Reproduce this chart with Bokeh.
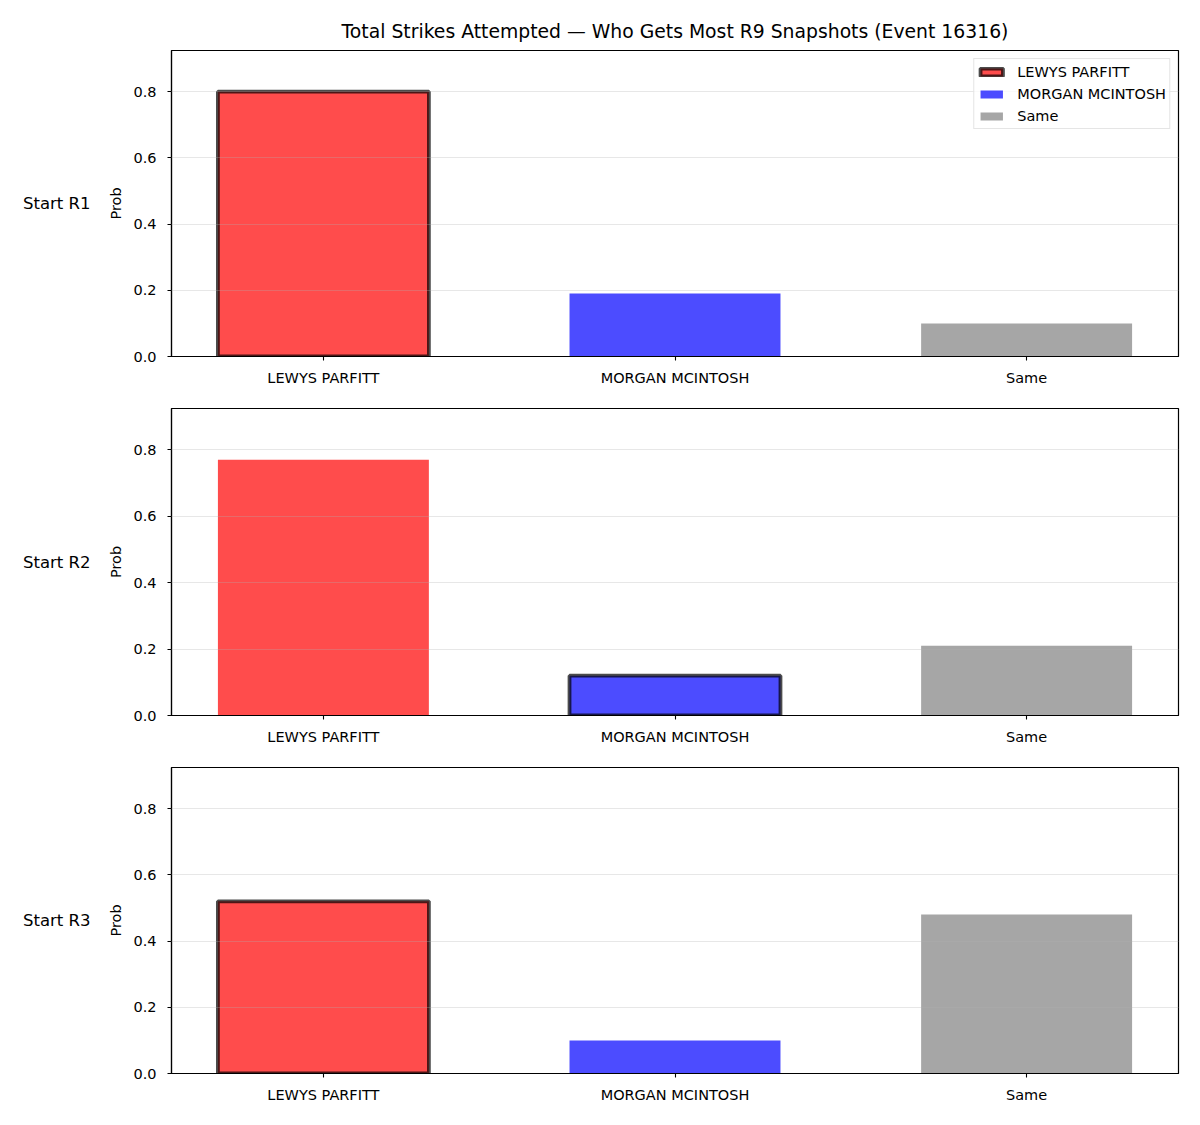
from bokeh.plotting import figure
from bokeh.models import (ColumnDataSource, Range1d, FixedTicker, LinearAxis,
                          PrintfTickFormatter)
from bokeh.layouts import column
from bokeh.embed import file_html
from bokeh.resources import INLINE

title_text = "Total Strikes Attempted \u2014 Who Gets Most R9 Snapshots (Event 16316)"
categories = ["LEWYS PARFITT", "MORGAN MCINTOSH", "Same"]
row_labels = ["Start R1", "Start R2", "Start R3"]
probs_r1 = [0.80, 0.19, 0.10]
probs_r2 = [0.77, 0.12, 0.21]
probs_r3 = [0.52, 0.10, 0.48]
highlighted = ["LEWYS PARFITT", "MORGAN MCINTOSH", "LEWYS PARFITT"]
y_ticks = [0.0, 0.2, 0.4, 0.6, 0.8]
bar_colors = ["red", "blue", "#808080"]

FONT = "DejaVu Sans"
X0, X1 = -0.432, 2.432
Y0, Y1 = 0.0, 0.924
FRAME_W = 1007
LEFT = 171
TICK_FS = "14.5px"

panels = [probs_r1, probs_r2, probs_r3]
geoms = [  # (top border, frame height, bottom border)
    (50, 306, 50),
    (2, 307, 50),
    (2, 306, 52),
]

figs = []
for i, (vals, lab, hl) in enumerate(zip(panels, row_labels, highlighted)):
    tb, fh, bb = geoms[i]
    p = figure(frame_width=FRAME_W, frame_height=fh,
               min_border_left=LEFT, min_border_right=22,
               min_border_top=tb, min_border_bottom=bb,
               x_range=Range1d(X0, X1), y_range=Range1d(Y0, Y1),
               output_backend="svg", toolbar_location=None,
               background_fill_color="white", border_fill_color="white")
    p.extra_y_ranges = {"rowlab": Range1d(0, 2)}
    src = ColumnDataSource(dict(
        x=list(range(len(categories))),
        top=vals,
        cat=categories,
        color=bar_colors,
        lalpha=[0.7 if c == hl else 0.0 for c in categories],
        lwidth=[3.8 if c == hl else 0.0 for c in categories],
    ))
    kw = dict(x="x", top="top", width=0.6, source=src,
              fill_color="color", fill_alpha=0.7,
              line_color="black", line_alpha="lalpha", line_width="lwidth")
    if i == 0:
        p.vbar(legend_field="cat", **kw)
    else:
        p.vbar(**kw)

    # axes
    p.xaxis.ticker = FixedTicker(ticks=list(range(len(categories))))
    p.xaxis.major_label_overrides = {j: c for j, c in enumerate(categories)}
    p.yaxis.ticker = FixedTicker(ticks=y_ticks)
    p.yaxis.formatter = PrintfTickFormatter(format="%.1f")
    p.yaxis.axis_label = "Prob"
    for ax in (p.xaxis[0], p.yaxis[0]):
        ax.major_label_text_font = FONT
        ax.major_label_text_font_size = TICK_FS
        ax.major_label_text_color = "black"
        ax.axis_label_text_font = FONT
        ax.axis_label_text_font_size = TICK_FS
        ax.axis_label_text_font_style = "normal"
        ax.axis_label_text_color = "black"
        ax.axis_line_color = "black"
        ax.axis_line_width = 1.2
        ax.major_tick_line_color = "black"
        ax.major_tick_line_width = 1.1
        ax.major_tick_in = 0
        ax.major_tick_out = 4
        ax.minor_tick_line_color = None
    p.xaxis.major_label_standoff = 9
    p.yaxis.major_label_standoff = 11
    p.yaxis.axis_label_standoff = 6
    p.outline_line_color = "black"
    p.outline_line_width = 1.2
    p.outline_line_alpha = 1.0

    # row label as a bare extra axis on the left
    rax = LinearAxis(y_range_name="rowlab", ticker=FixedTicker(ticks=[1]),
                     major_label_overrides={1: lab})
    rax.axis_line_color = None
    rax.major_tick_line_color = None
    rax.minor_tick_line_color = None
    rax.major_tick_in = 0
    rax.major_tick_out = 0
    rax.major_label_standoff = 15
    rax.major_label_text_font = FONT
    rax.major_label_text_font_size = "16.5px"
    rax.major_label_text_color = "black"
    p.add_layout(rax, "left")

    p.xgrid.visible = False
    p.ygrid.ticker = FixedTicker(ticks=y_ticks)
    p.ygrid.grid_line_color = "#b0b0b0"
    p.ygrid.grid_line_alpha = 0.3
    p.ygrid.grid_line_width = 1.1
    p.ygrid.level = "guide"

    if i == 0:
        p.title.text = title_text
        p.title.align = "center"
        p.title.text_font = FONT
        p.title.text_font_size = "18.8px"
        p.title.text_font_style = "normal"
        p.title.text_color = "black"
        p.title.standoff = 18
        lg = p.legend[0]
        lg.location = "top_right"
        lg.margin = 8
        lg.padding = 3
        lg.spacing = 3
        lg.label_height = 19
        lg.glyph_width = 28
        lg.glyph_height = 10
        lg.label_standoff = 12
        lg.label_text_font = FONT
        lg.label_text_font_size = TICK_FS
        lg.label_text_color = "black"
        lg.border_line_color = "#cccccc"
        lg.border_line_width = 1
        lg.background_fill_alpha = 0.8
    figs.append(p)

layout = column(*figs, spacing=0)
open("out.html", "w").write(file_html(layout, INLINE))
